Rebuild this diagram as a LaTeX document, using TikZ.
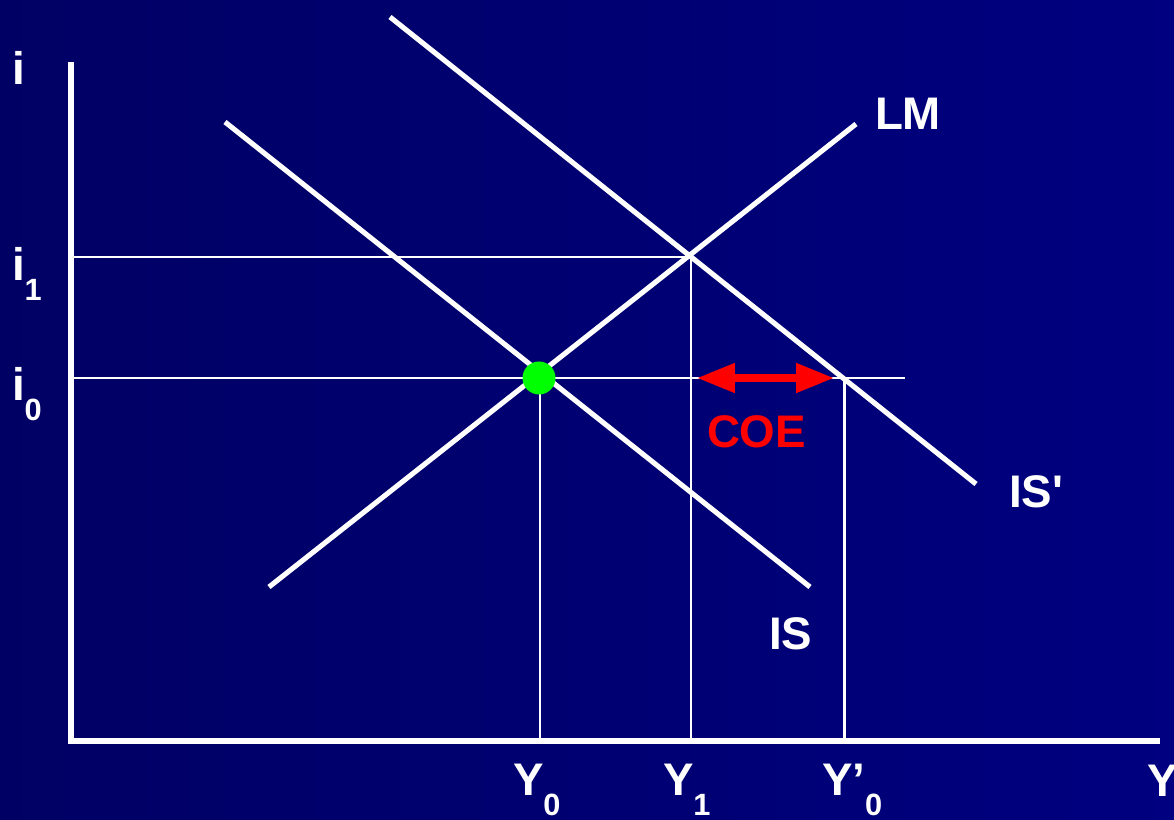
\documentclass[tikz,border=0pt]{standalone}
\usepackage{fontspec}
\setmainfont{Liberation Sans}
\usetikzlibrary{arrows.meta}
\definecolor{bgL}{RGB}{0,0,100}
\definecolor{bgR}{RGB}{0,0,128}
\definecolor{coered}{RGB}{255,0,0}
\definecolor{dotgreen}{RGB}{0,255,0}
\newcommand\lsub[1]{\raisebox{-11pt}{\fontsize{17.5}{17.5}\selectfont #1}}
\tikzset{
  curve/.style={white, line width=2.9pt},
  guide/.style={white, line width=1.7pt},
  axisline/.style={white, line width=3.1pt, line join=miter},
  lbl/.style={text=white, font=\bfseries\fontsize{26}{26}\selectfont, anchor=base west, inner sep=0pt, outer sep=0pt},
  coelbl/.style={lbl, text=coered},
  coearrow/.style={coered, line width=4pt, {Triangle[length=21.5pt,width=16pt]}-{Triangle[length=21.5pt,width=16pt]}},
  eqdot/.style={circle, fill=dotgreen, minimum size=33*0.02cm, inner sep=0pt}
}
\begin{document}
\begin{tikzpicture}[x=0.02cm,y=-0.02cm]
\shade[left color=bgL, right color=bgR] (0,0) rectangle (1174,820);
\useasboundingbox (0,0) rectangle (1174,820);

% axes
\coordinate (ytop) at (71,62);
\coordinate (orig) at (71,741);
\coordinate (xend) at (1160,741);
\draw[axisline] (ytop) -- (orig) -- (xend);

% guide lines
\coordinate (i1L) at (71,257);
\coordinate (E1) at (691,257);
\coordinate (i0L) at (71,378);
\coordinate (i0R) at (905,378);
\coordinate (E0) at (540,378);
\coordinate (E2) at (844,378);
\coordinate (Y0b) at (540,741);
\coordinate (Y1b) at (691,741);
\coordinate (Y2b) at (844,741);
\draw[guide] (i1L) -- (E1);
\draw[guide] (i0L) -- (i0R);
\draw[guide] (E0) -- (Y0b);
\draw[guide] (E1) -- (Y1b);
\draw[guide] (E2) -- (Y2b);

% curves
\coordinate (LMa) at (269,587);
\coordinate (LMb) at (856,124);
\coordinate (ISa) at (225,122);
\coordinate (ISb) at (810,587);
\coordinate (IS2a) at (390,17);
\coordinate (IS2b) at (976,484);
\draw[curve] (LMa) -- (LMb);
\draw[curve] (ISa) -- (ISb);
\draw[curve] (IS2a) -- (IS2b);

% equilibrium dot
\node[eqdot] (dot) at (539,378) {};

% COE arrow
\coordinate (coeL) at (697,378);
\coordinate (coeR) at (834,378);
\draw[coearrow] (coeL) -- (coeR);
\node[coelbl] (coe) at (707,448) {COE};

% labels
\node[lbl] (li) at (12,85) {i};
\node[lbl] (li1) at (12,281) {i\lsub{1}};
\node[lbl] (li0) at (12,401) {i\lsub{0}};
\node[lbl] (lLM) at (875,130) {LM};
\node[lbl] (lIS2) at (1009,508) {IS\textquotesingle};
\node[lbl] (lIS) at (769,650) {IS};
\node[lbl] (lY0) at (513,796) {Y\lsub{0}};
\node[lbl] (lY1) at (663,796) {Y\lsub{1}};
\node[lbl] (lY2) at (822,796) {Y’\lsub{0}};
\node[lbl] (lY) at (1147,797) {Y};
\end{tikzpicture}
\end{document}
